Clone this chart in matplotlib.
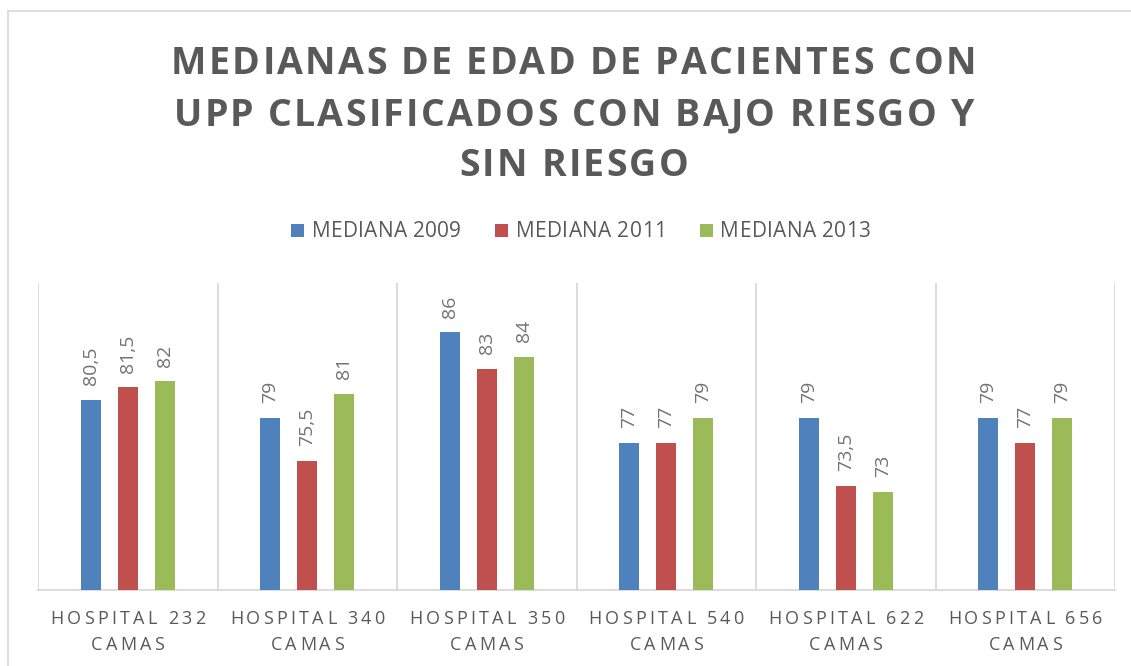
import numpy as np
import matplotlib
matplotlib.use("Agg")
import matplotlib.pyplot as plt
from matplotlib.font_manager import FontProperties, findfont
from matplotlib.ft2font import FT2Font
from matplotlib.lines import Line2D
from matplotlib.patches import Rectangle

try:
    from matplotlib.ft2font import LoadFlags
    NOHINT = LoadFlags.NO_HINTING
except Exception:
    from matplotlib.ft2font import LOAD_NO_HINTING as NOHINT

# ---------------- data ----------------
categories = ["HOSPITAL 232\nCAMAS", "HOSPITAL 340\nCAMAS", "HOSPITAL 350\nCAMAS",
              "HOSPITAL 540\nCAMAS", "HOSPITAL 622\nCAMAS", "HOSPITAL 656\nCAMAS"]
series_names = ["MEDIANA 2009", "MEDIANA 2011", "MEDIANA 2013"]
mediana_2009 = [80.5, 79, 86, 77, 79, 79]
mediana_2011 = [81.5, 75.5, 83, 77, 73.5, 77]
mediana_2013 = [82, 81, 84, 79, 73, 79]
title_lines = ["MEDIANAS DE EDAD DE PACIENTES CON",
               "UPP CLASIFICADOS CON BAJO RIESGO Y",
               "SIN RIESGO"]

series = [mediana_2009, mediana_2011, mediana_2013]
colors = ["#4F81BD", "#C0504D", "#9BBB59"]
TEXT = "#595959"
LABEL = "#737373"
GRID = "#D9D9D9"
FAMILY = "Open Sans"

W, H, DPI = 1131, 666, 100
fig = plt.figure(figsize=(W / DPI, H / DPI), dpi=DPI)
fig.patch.set_facecolor("white")


def advances(text, size_pt, weight):
    path = findfont(FontProperties(family=FAMILY, weight=weight))
    font = FT2Font(path, hinting_factor=1)
    font.set_size(size_pt, DPI)
    out = []
    for c in text:
        g = font.load_char(ord(c), flags=NOHINT)
        out.append(g.linearHoriAdvance / 65536.0)
    return out


def spacing_for(text, size_pt, weight, target_w):
    adv = advances(text, size_pt, weight)
    return (target_w - sum(adv)) / (len(text) - 1)


def spaced_text(xc, baseline, text, size_pt, weight, spacing, color):
    adv = advances(text, size_pt, weight)
    total = sum(adv) + spacing * (len(text) - 1)
    x = xc - total / 2.0
    for c, a in zip(text, adv):
        if c != " ":
            fig.text(x / W, 1 - baseline / H, c, fontsize=size_pt, fontweight=weight,
                     family=FAMILY, color=color, ha="left", va="baseline")
        x += a + spacing
    return total


# ---------------- border ----------------
fig.add_artist(Line2D([8 / W, 1.0], [1 - 11 / H, 1 - 11 / H], transform=fig.transFigure,
                      color=GRID, lw=1.2))
fig.add_artist(Line2D([8 / W, 8 / W], [1 - 11 / H, 0.0], transform=fig.transFigure,
                      color=GRID, lw=1.2))

# ---------------- title ----------------
TSIZE = 27
tsp = spacing_for(title_lines[0], TSIZE, "bold", 806)
for line, base in zip(title_lines, [73.5, 125.5, 176.5]):
    spaced_text(574, base, line, TSIZE, "bold", tsp, TEXT)

# ---------------- legend ----------------
LSIZE = 15
lsp = spacing_for(series_names[0], LSIZE, "normal", 150)
widths = [sum(advances(s, LSIZE, "normal")) + lsp * (len(s) - 1) for s in series_names]
sq, gap1, gap2 = 13, 8, 33.5
total = sum(sq + gap1 + w for w in widths) + gap2 * (len(widths) - 1)
x = 580.5 - total / 2
for name, col, w in zip(series_names, colors, widths):
    fig.add_artist(Rectangle((x / W, 1 - 236.7 / H), sq / W, sq / H, transform=fig.transFigure,
                             facecolor=col, edgecolor="none"))
    spaced_text(x + sq + gap1 + w / 2, 236.7, name, LSIZE, "normal", lsp, TEXT)
    x += sq + gap1 + w + gap2

# ---------------- axes ----------------
ax = fig.add_axes([38 / W, (H - 590) / H, (1115 - 38) / W, (590 - 283) / H])
ax.set_facecolor("none")
xs = np.arange(len(categories))
bw = 0.109
offs = [-0.206, 0.0, 0.206]
for vals, col, off in zip(series, colors, offs):
    ax.bar(xs + off, vals, bw, color=col, edgecolor="none", zorder=3)
    for xi, v in zip(xs + off, vals):
        lab = (f"{v:.1f}".replace(".", ",")) if v != int(v) else f"{int(v)}"
        ax.annotate(lab, xy=(xi, v), xytext=(0, 10.5), textcoords="offset points",
                    rotation=90, ha="center", va="bottom", fontsize=14,
                    color=LABEL, family=FAMILY)

ax.set_xlim(-0.5, len(categories) - 0.5)
ax.set_ylim(65, 90)
ax.vlines(np.arange(len(categories) + 1) - 0.5, 65, 90, color=GRID, lw=1.3, zorder=1)
for s in ["top", "left", "right"]:
    ax.spines[s].set_visible(False)
ax.spines["bottom"].set_color(GRID)
ax.spines["bottom"].set_linewidth(1.3)
ax.set_xticks([])
ax.set_yticks([])

# category labels
CSIZE = 13
csp = spacing_for("HOSPITAL 232", CSIZE, "normal", 155)
for i, cat in enumerate(categories):
    px = ax.transData.transform((i, 65))[0]
    for line, base in zip(cat.split("\n"), [623.8, 650.5]):
        spaced_text(px, base, line, CSIZE, "normal", csp, TEXT)

fig.savefig("out.png", dpi=DPI)
